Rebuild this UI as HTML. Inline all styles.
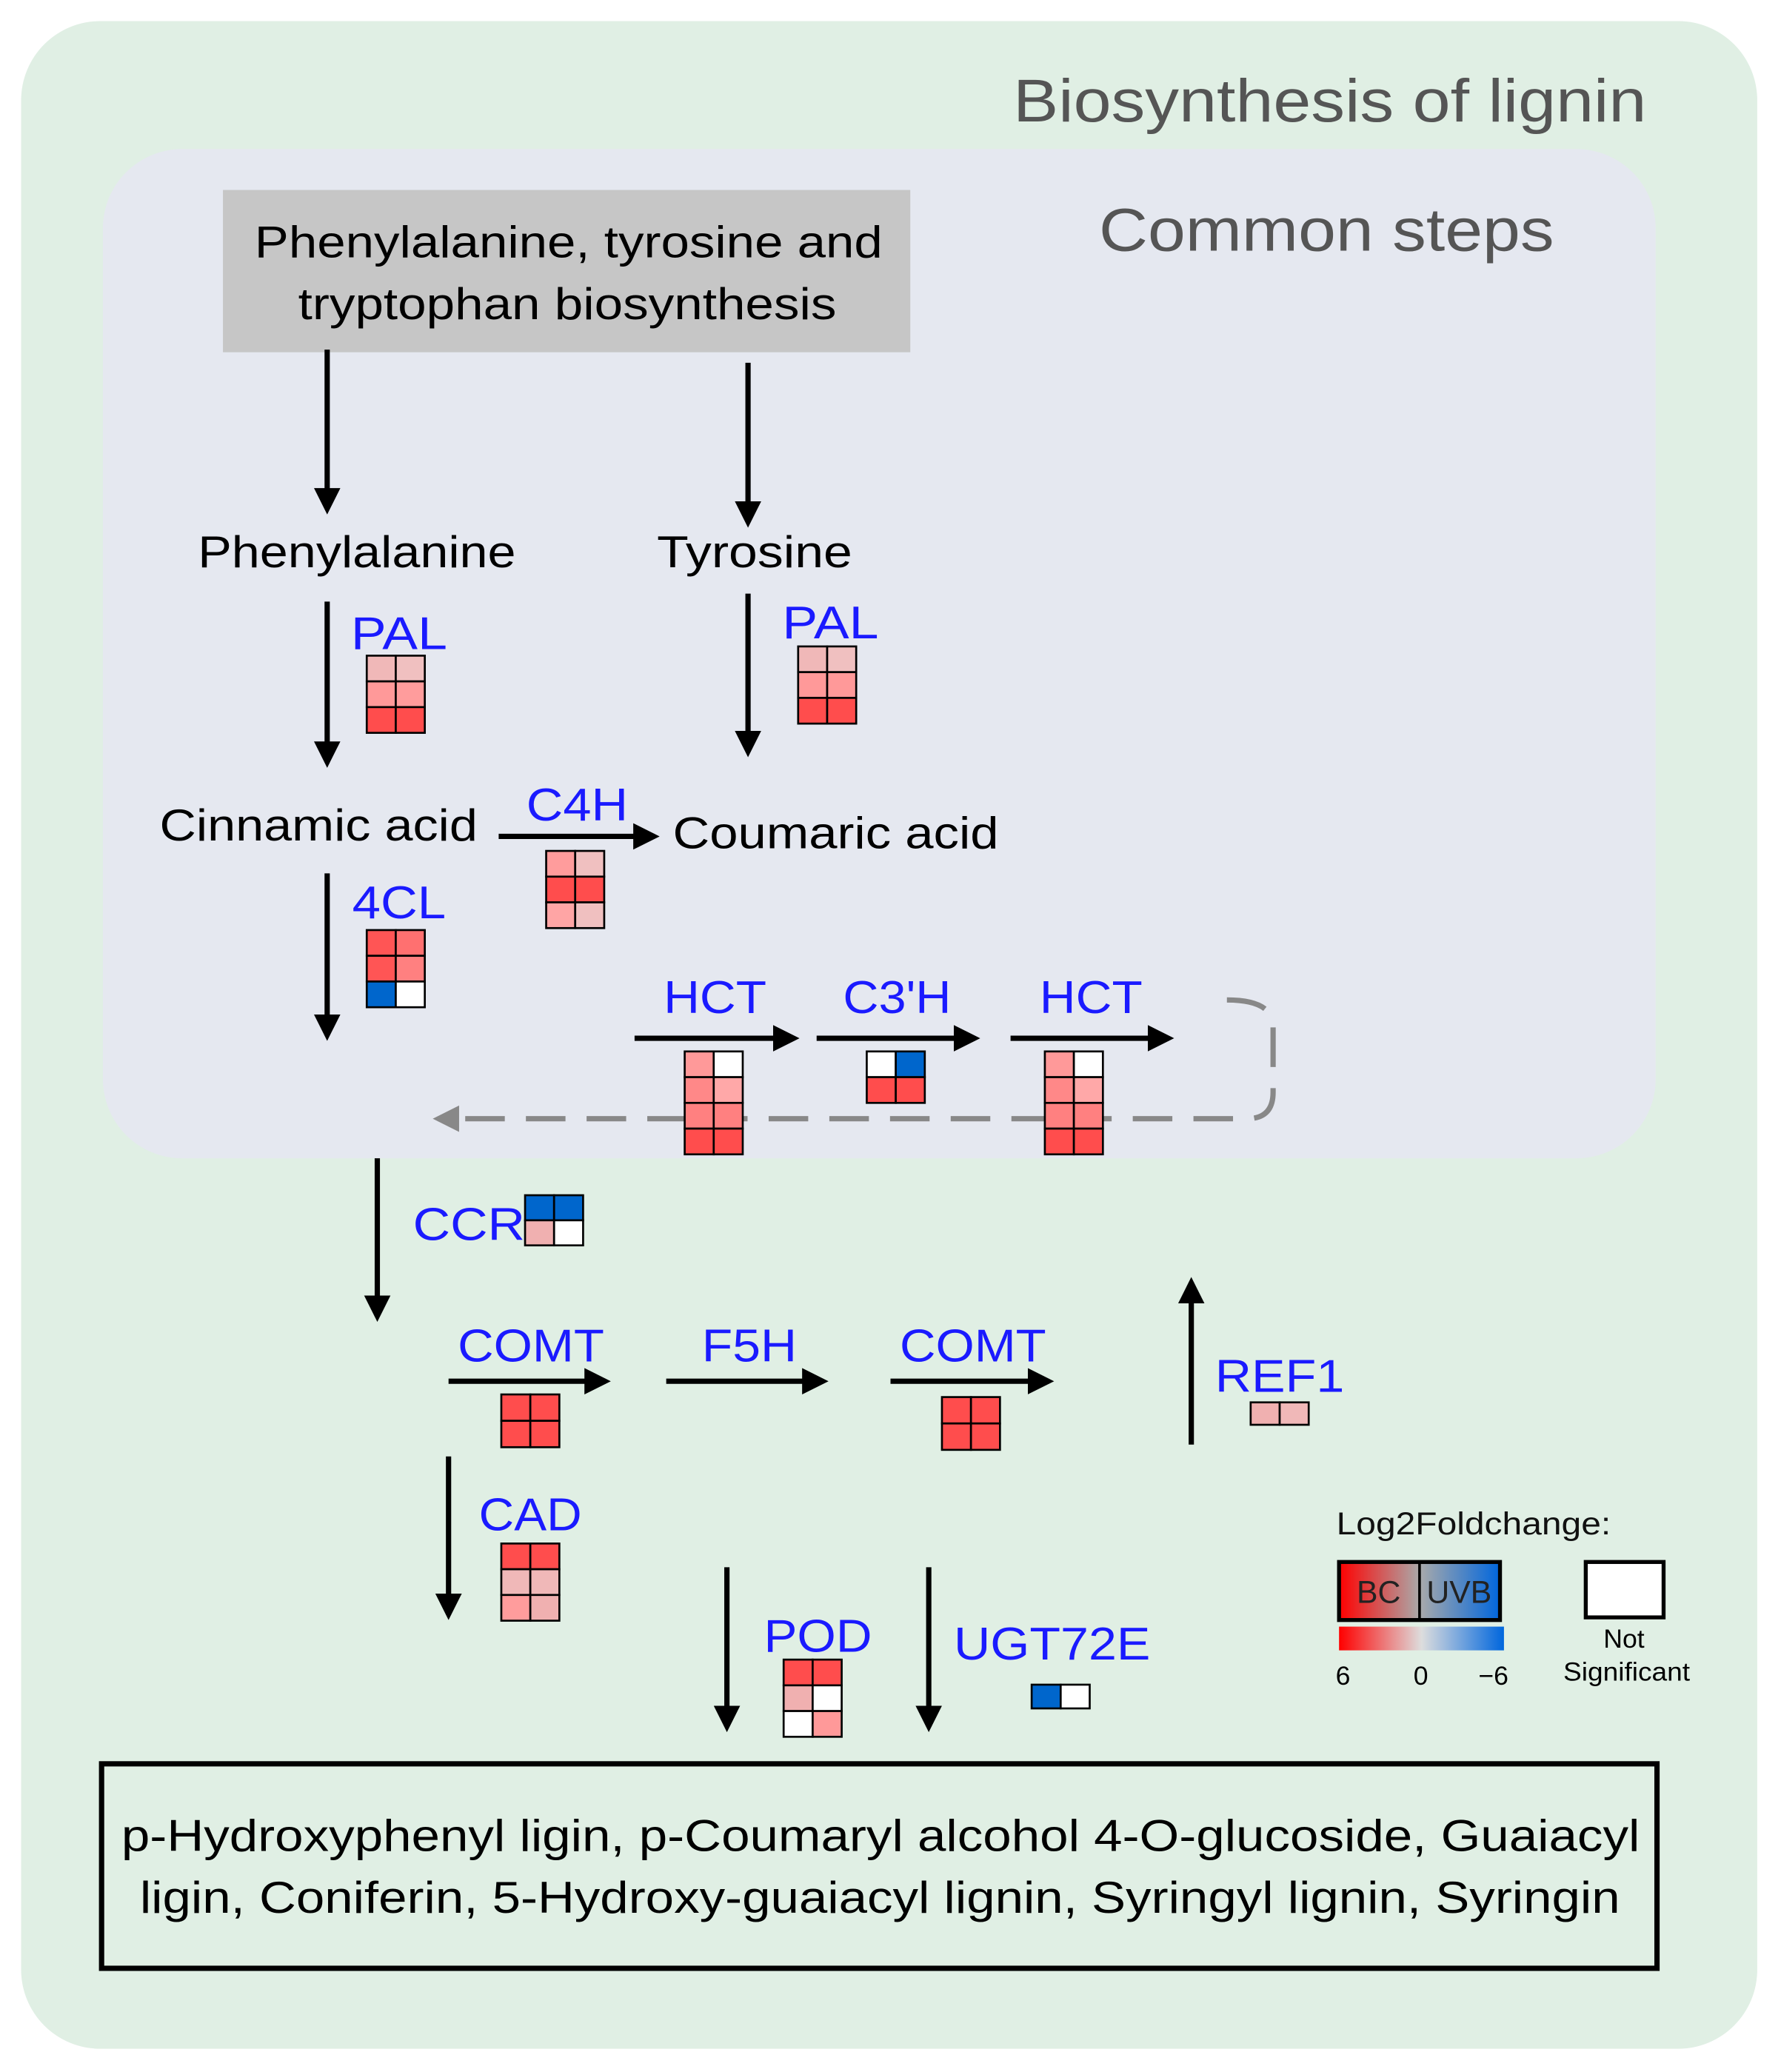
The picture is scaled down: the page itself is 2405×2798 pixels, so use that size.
<!DOCTYPE html>
<html><head><meta charset="utf-8"><style>html,body{margin:0;padding:0;background:#fff}svg{display:block}</style></head>
<body>
<svg width="2405" height="2798" viewBox="0 0 1350 1570.6" preserveAspectRatio="none" xmlns="http://www.w3.org/2000/svg" font-family="Liberation Sans, Arial, sans-serif">
<defs>
<marker id="ah2" markerWidth="5" markerHeight="5" refX="4" refY="2.5" orient="auto" markerUnits="strokeWidth"><path d="M0,0 L5,2.5 L0,5 Z" fill="#000"/></marker>
<marker id="ahg" markerWidth="5" markerHeight="5" refX="4" refY="2.5" orient="auto" markerUnits="strokeWidth"><path d="M0,0 L5,2.5 L0,5 Z" fill="#888"/></marker>
<linearGradient id="lg" x1="0" x2="1"><stop offset="0" stop-color="#ff0000"/><stop offset="0.5" stop-color="#ddd"/><stop offset="1" stop-color="#0066dd"/></linearGradient>
<linearGradient id="lg2" x1="0" x2="1"><stop offset="0" stop-color="#ff0000"/><stop offset="0.5" stop-color="#aaa"/><stop offset="1" stop-color="#0066dd"/></linearGradient>
</defs>
<rect x="16" y="16" width="1316" height="1537" rx="60" fill="#e0efe4"/>
<text x="768" y="92" font-size="46" fill="#555" textLength="480" lengthAdjust="spacingAndGlyphs">Biosynthesis of lignin</text>
<rect x="78" y="113" width="1177" height="765" rx="60" fill="#e5e8f0"/>
<text x="833" y="190" font-size="46" fill="#555" textLength="345" lengthAdjust="spacingAndGlyphs">Common steps</text>
<rect x="169" y="144" width="521" height="123" fill="#c6c6c6"/>
<text x="193" y="195" font-size="34" textLength="476" lengthAdjust="spacingAndGlyphs">Phenylalanine, tyrosine and</text>
<text x="226" y="242" font-size="34" textLength="408" lengthAdjust="spacingAndGlyphs">tryptophan biosynthesis</text>

<g stroke="#000" stroke-width="4" fill="none">
<line x1="248" y1="265" x2="248" y2="386" marker-end="url(#ah2)"/>
<line x1="567" y1="275" x2="567" y2="396" marker-end="url(#ah2)"/>
<line x1="248" y1="456" x2="248" y2="578" marker-end="url(#ah2)"/>
<line x1="567" y1="450" x2="567" y2="570" marker-end="url(#ah2)"/>
<line x1="378" y1="634" x2="496" y2="634" marker-end="url(#ah2)"/>
<line x1="248" y1="662" x2="248" y2="785" marker-end="url(#ah2)"/>
<line x1="481" y1="787" x2="602" y2="787" marker-end="url(#ah2)"/>
<line x1="619" y1="787" x2="739" y2="787" marker-end="url(#ah2)"/>
<line x1="766" y1="787" x2="886" y2="787" marker-end="url(#ah2)"/>
<line x1="286" y1="878" x2="286" y2="998" marker-end="url(#ah2)"/>
<line x1="340" y1="1047" x2="459" y2="1047" marker-end="url(#ah2)"/>
<line x1="505" y1="1047" x2="624" y2="1047" marker-end="url(#ah2)"/>
<line x1="675" y1="1047" x2="795" y2="1047" marker-end="url(#ah2)"/>
<line x1="903" y1="1095" x2="903" y2="972" marker-end="url(#ah2)"/>
<line x1="340" y1="1104" x2="340" y2="1224" marker-end="url(#ah2)"/>
<line x1="551" y1="1188" x2="551" y2="1309" marker-end="url(#ah2)"/>
<line x1="704" y1="1188" x2="704" y2="1309" marker-end="url(#ah2)"/>
</g>
<path d="M930,758 Q965,758 965,778 L965,828 Q965,848 945,848 L332,848" stroke="#888" stroke-width="4" fill="none" stroke-dasharray="30 16" marker-end="url(#ahg)"/>

<g font-size="34" lengthAdjust="spacingAndGlyphs">
<text x="150" y="430" textLength="241" lengthAdjust="spacingAndGlyphs">Phenylalanine</text>
<text x="498" y="430" textLength="148" lengthAdjust="spacingAndGlyphs">Tyrosine</text>
<text x="121" y="637" textLength="241" lengthAdjust="spacingAndGlyphs">Cinnamic acid</text>
<text x="510" y="643" textLength="247" lengthAdjust="spacingAndGlyphs">Coumaric acid</text>
</g>
<g font-size="35" fill="#1a1aff">
<text x="266" y="492" textLength="73" lengthAdjust="spacingAndGlyphs">PAL</text>
<text x="593" y="484" textLength="73" lengthAdjust="spacingAndGlyphs">PAL</text>
<text x="399" y="622" textLength="77" lengthAdjust="spacingAndGlyphs">C4H</text>
<text x="267" y="696" textLength="71" lengthAdjust="spacingAndGlyphs">4CL</text>
<text x="503" y="768" textLength="78" lengthAdjust="spacingAndGlyphs">HCT</text>
<text x="639" y="768" textLength="82" lengthAdjust="spacingAndGlyphs">C3'H</text>
<text x="788" y="768" textLength="78" lengthAdjust="spacingAndGlyphs">HCT</text>
<text x="313" y="940" textLength="85" lengthAdjust="spacingAndGlyphs">CCR</text>
<text x="347" y="1032" textLength="111" lengthAdjust="spacingAndGlyphs">COMT</text>
<text x="532" y="1032" textLength="72" lengthAdjust="spacingAndGlyphs">F5H</text>
<text x="682" y="1032" textLength="111" lengthAdjust="spacingAndGlyphs">COMT</text>
<text x="921" y="1055" textLength="98" lengthAdjust="spacingAndGlyphs">REF1</text>
<text x="363" y="1160" textLength="78" lengthAdjust="spacingAndGlyphs">CAD</text>
<text x="579" y="1252" textLength="82" lengthAdjust="spacingAndGlyphs">POD</text>
<text x="723" y="1258" textLength="149" lengthAdjust="spacingAndGlyphs">UGT72E</text>
</g>

<g stroke="#000" stroke-width="1.5">
<rect x="278" y="497" width="22" height="19.5" fill="#f0b8b8"/><rect x="300" y="497" width="22" height="19.5" fill="#f0c0c0"/>
<rect x="278" y="516.5" width="22" height="19.5" fill="#ff9999"/><rect x="300" y="516.5" width="22" height="19.5" fill="#ff9c9c"/>
<rect x="278" y="536" width="22" height="19.5" fill="#ff4d4d"/><rect x="300" y="536" width="22" height="19.5" fill="#ff4d4d"/>
<rect x="605" y="490" width="22" height="19.5" fill="#f0b8b8"/><rect x="627" y="490" width="22" height="19.5" fill="#f0c0c0"/>
<rect x="605" y="509.5" width="22" height="19.5" fill="#ff9999"/><rect x="627" y="509.5" width="22" height="19.5" fill="#ff9999"/>
<rect x="605" y="529" width="22" height="19.5" fill="#ff4d4d"/><rect x="627" y="529" width="22" height="19.5" fill="#ff4d4d"/>
<rect x="414" y="645" width="22" height="19.5" fill="#ff9c9c"/><rect x="436" y="645" width="22" height="19.5" fill="#f0c0c0"/>
<rect x="414" y="664.5" width="22" height="19.5" fill="#ff4d4d"/><rect x="436" y="664.5" width="22" height="19.5" fill="#ff4d4d"/>
<rect x="414" y="684" width="22" height="19.5" fill="#ffa5a5"/><rect x="436" y="684" width="22" height="19.5" fill="#f0c0c0"/>
<rect x="278" y="705" width="22" height="19.5" fill="#ff5555"/><rect x="300" y="705" width="22" height="19.5" fill="#ff7070"/>
<rect x="278" y="724.5" width="22" height="19.5" fill="#ff5555"/><rect x="300" y="724.5" width="22" height="19.5" fill="#ff8080"/>
<rect x="278" y="744" width="22" height="19.5" fill="#0066cc"/><rect x="300" y="744" width="22" height="19.5" fill="#fff"/>
<rect x="519" y="797" width="22" height="19.5" fill="#ff9999"/><rect x="541" y="797" width="22" height="19.5" fill="#fff"/>
<rect x="519" y="816.5" width="22" height="19.5" fill="#ff8888"/><rect x="541" y="816.5" width="22" height="19.5" fill="#ffa8a8"/>
<rect x="519" y="836" width="22" height="19.5" fill="#ff8080"/><rect x="541" y="836" width="22" height="19.5" fill="#ff8080"/>
<rect x="519" y="855.5" width="22" height="19.5" fill="#ff4d4d"/><rect x="541" y="855.5" width="22" height="19.5" fill="#ff4d4d"/>
<rect x="657" y="797" width="22" height="19.5" fill="#fff"/><rect x="679" y="797" width="22" height="19.5" fill="#0066cc"/>
<rect x="657" y="816.5" width="22" height="19.5" fill="#ff4d4d"/><rect x="679" y="816.5" width="22" height="19.5" fill="#ff4d4d"/>
<rect x="792" y="797" width="22" height="19.5" fill="#ff9999"/><rect x="814" y="797" width="22" height="19.5" fill="#fff"/>
<rect x="792" y="816.5" width="22" height="19.5" fill="#ff8888"/><rect x="814" y="816.5" width="22" height="19.5" fill="#ffa8a8"/>
<rect x="792" y="836" width="22" height="19.5" fill="#ff8080"/><rect x="814" y="836" width="22" height="19.5" fill="#ff8080"/>
<rect x="792" y="855.5" width="22" height="19.5" fill="#ff4d4d"/><rect x="814" y="855.5" width="22" height="19.5" fill="#ff4d4d"/>
<rect x="398" y="906" width="22" height="19" fill="#0066cc"/><rect x="420" y="906" width="22" height="19" fill="#0066cc"/>
<rect x="398" y="925" width="22" height="19" fill="#f0b0b0"/><rect x="420" y="925" width="22" height="19" fill="#fff"/>
<rect x="380" y="1057" width="22" height="20" fill="#ff4d4d"/><rect x="402" y="1057" width="22" height="20" fill="#ff4d4d"/>
<rect x="380" y="1077" width="22" height="20" fill="#ff4d4d"/><rect x="402" y="1077" width="22" height="20" fill="#ff4d4d"/>
<rect x="714" y="1059" width="22" height="20" fill="#ff4d4d"/><rect x="736" y="1059" width="22" height="20" fill="#ff4d4d"/>
<rect x="714" y="1079" width="22" height="20" fill="#ff4d4d"/><rect x="736" y="1079" width="22" height="20" fill="#ff4d4d"/>
<rect x="948" y="1063" width="22" height="17" fill="#f0b0b0"/><rect x="970" y="1063" width="22" height="17" fill="#f0b8b8"/>
<rect x="380" y="1170" width="22" height="19.5" fill="#ff4d4d"/><rect x="402" y="1170" width="22" height="19.5" fill="#ff4d4d"/>
<rect x="380" y="1189.5" width="22" height="19.5" fill="#f0b8b8"/><rect x="402" y="1189.5" width="22" height="19.5" fill="#f0b8b8"/>
<rect x="380" y="1209" width="22" height="19.5" fill="#ff9c9c"/><rect x="402" y="1209" width="22" height="19.5" fill="#f0b0b0"/>
<rect x="594" y="1258" width="22" height="19.5" fill="#ff4d4d"/><rect x="616" y="1258" width="22" height="19.5" fill="#ff4d4d"/>
<rect x="594" y="1277.5" width="22" height="19.5" fill="#f0b0b0"/><rect x="616" y="1277.5" width="22" height="19.5" fill="#fff"/>
<rect x="594" y="1297" width="22" height="19.5" fill="#fff"/><rect x="616" y="1297" width="22" height="19.5" fill="#ff9999"/>
<rect x="782" y="1277" width="22" height="18" fill="#0066cc"/><rect x="804" y="1277" width="22" height="18" fill="#fff"/>
</g>

<text x="1013" y="1163" font-size="24" fill="#111" textLength="208" lengthAdjust="spacingAndGlyphs">Log2Foldchange:</text>
<rect x="1015" y="1184" width="122" height="44" fill="url(#lg2)" stroke="#000" stroke-width="3"/>
<line x1="1076" y1="1184" x2="1076" y2="1228" stroke="#000" stroke-width="2"/>
<text x="1045" y="1215" font-size="24" text-anchor="middle" fill="#222">BC</text>
<text x="1106" y="1215" font-size="24" text-anchor="middle" fill="#222">UVB</text>
<rect x="1015" y="1233" width="125" height="18" fill="url(#lg)"/>
<text x="1018" y="1277" font-size="20" text-anchor="middle">6</text>
<text x="1077" y="1277" font-size="20" text-anchor="middle">0</text>
<text x="1132" y="1277" font-size="20" text-anchor="middle">−6</text>
<rect x="1202" y="1184" width="59" height="42" fill="#fff" stroke="#000" stroke-width="3"/>
<text x="1231" y="1249" font-size="20" text-anchor="middle">Not</text>
<text x="1185" y="1274" font-size="20" textLength="96" lengthAdjust="spacingAndGlyphs">Significant</text>

<rect x="77" y="1337" width="1179" height="155" fill="#e0efe4" stroke="#000" stroke-width="4"/>
<text x="92" y="1403" font-size="34" textLength="1151" lengthAdjust="spacingAndGlyphs">p-Hydroxyphenyl ligin, p-Coumaryl alcohol 4-O-glucoside, Guaiacyl</text>
<text x="106" y="1450" font-size="34" textLength="1122" lengthAdjust="spacingAndGlyphs">ligin, Coniferin, 5-Hydroxy-guaiacyl lignin, Syringyl lignin, Syringin</text>
</svg>
</body></html>
